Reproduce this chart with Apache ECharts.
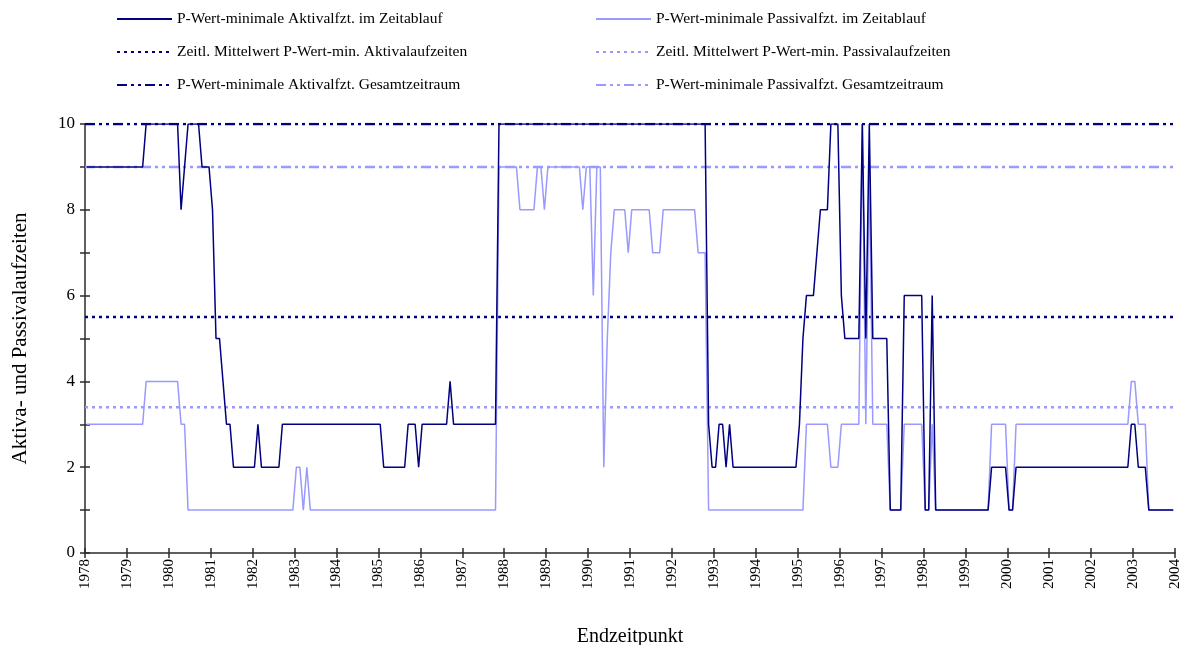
<!DOCTYPE html>
<html>
<head>
<meta charset="utf-8">
<title>P-Wert-minimale Aktiva- und Passivalaufzeiten</title>
<script src="https://cdn.jsdelivr.net/npm/echarts@6/dist/echarts.min.js"></script>
<style>
  html, body { margin: 0; padding: 0; background: #fff; }
  #chart { width: 1190px; height: 645px; }
</style>
</head>
<body>
<div id="chart"></div>
<script>
// Monthly values, January 1978 to December 2003 (12 per row = one year)
const startYear = 1978;
const endYear = 2004;

const aktiva = [
  9, 9, 9, 9, 9, 9, 9, 9, 9, 9, 9, 9,            // 1978
  9, 9, 9, 9, 9, 10, 10, 10, 10, 10, 10, 10,     // 1979
  10, 10, 10, 8, 9, 10, 10, 10, 10, 9, 9, 9,     // 1980
  8, 5, 5, 4, 3, 3, 2, 2, 2, 2, 2, 2,            // 1981
  2, 3, 2, 2, 2, 2, 2, 2, 3, 3, 3, 3,            // 1982
  3, 3, 3, 3, 3, 3, 3, 3, 3, 3, 3, 3,            // 1983
  3, 3, 3, 3, 3, 3, 3, 3, 3, 3, 3, 3,            // 1984
  3, 2, 2, 2, 2, 2, 2, 2, 3, 3, 3, 2,            // 1985
  3, 3, 3, 3, 3, 3, 3, 3, 4, 3, 3, 3,            // 1986
  3, 3, 3, 3, 3, 3, 3, 3, 3, 3, 10, 10,          // 1987
  10, 10, 10, 10, 10, 10, 10, 10, 10, 10, 10, 10, // 1988
  10, 10, 10, 10, 10, 10, 10, 10, 10, 10, 10, 10, // 1989
  10, 10, 10, 10, 10, 10, 10, 10, 10, 10, 10, 10, // 1990
  10, 10, 10, 10, 10, 10, 10, 10, 10, 10, 10, 10, // 1991
  10, 10, 10, 10, 10, 10, 10, 10, 10, 10, 3, 2,  // 1992
  2, 3, 3, 2, 3, 2, 2, 2, 2, 2, 2, 2,            // 1993
  2, 2, 2, 2, 2, 2, 2, 2, 2, 2, 2, 2,            // 1994
  3, 5, 6, 6, 6, 7, 8, 8, 8, 10, 10, 10,         // 1995
  6, 5, 5, 5, 5, 5, 10, 5, 10, 5, 5, 5,          // 1996
  5, 5, 1, 1, 1, 1, 6, 6, 6, 6, 6, 6,            // 1997
  1, 1, 6, 1, 1, 1, 1, 1, 1, 1, 1, 1,            // 1998
  1, 1, 1, 1, 1, 1, 1, 2, 2, 2, 2, 2,            // 1999
  1, 1, 2, 2, 2, 2, 2, 2, 2, 2, 2, 2,            // 2000
  2, 2, 2, 2, 2, 2, 2, 2, 2, 2, 2, 2,            // 2001
  2, 2, 2, 2, 2, 2, 2, 2, 2, 2, 2, 3,            // 2002
  3, 2, 2, 2, 1, 1, 1, 1, 1, 1, 1, 1             // 2003
];

const passiva = [
  3, 3, 3, 3, 3, 3, 3, 3, 3, 3, 3, 3,            // 1978
  3, 3, 3, 3, 3, 4, 4, 4, 4, 4, 4, 4,            // 1979
  4, 4, 4, 3, 3, 1, 1, 1, 1, 1, 1, 1,            // 1980
  1, 1, 1, 1, 1, 1, 1, 1, 1, 1, 1, 1,            // 1981
  1, 1, 1, 1, 1, 1, 1, 1, 1, 1, 1, 1,            // 1982
  2, 2, 1, 2, 1, 1, 1, 1, 1, 1, 1, 1,            // 1983
  1, 1, 1, 1, 1, 1, 1, 1, 1, 1, 1, 1,            // 1984
  1, 1, 1, 1, 1, 1, 1, 1, 1, 1, 1, 1,            // 1985
  1, 1, 1, 1, 1, 1, 1, 1, 1, 1, 1, 1,            // 1986
  1, 1, 1, 1, 1, 1, 1, 1, 1, 1, 9, 9,            // 1987
  9, 9, 9, 9, 8, 8, 8, 8, 8, 9, 9, 8,            // 1988
  9, 9, 9, 9, 9, 9, 9, 9, 9, 9, 8, 9,            // 1989
  9, 6, 9, 9, 2, 5, 7, 8, 8, 8, 8, 7,            // 1990
  8, 8, 8, 8, 8, 8, 7, 7, 7, 8, 8, 8,            // 1991
  8, 8, 8, 8, 8, 8, 8, 7, 7, 7, 1, 1,            // 1992
  1, 1, 1, 1, 1, 1, 1, 1, 1, 1, 1, 1,            // 1993
  1, 1, 1, 1, 1, 1, 1, 1, 1, 1, 1, 1,            // 1994
  1, 1, 3, 3, 3, 3, 3, 3, 3, 2, 2, 2,            // 1995
  3, 3, 3, 3, 3, 3, 10, 3, 9, 3, 3, 3,           // 1996
  3, 3, 1, 1, 1, 1, 3, 3, 3, 3, 3, 3,            // 1997
  1, 1, 3, 1, 1, 1, 1, 1, 1, 1, 1, 1,            // 1998
  1, 1, 1, 1, 1, 1, 1, 3, 3, 3, 3, 3,            // 1999
  1, 1, 3, 3, 3, 3, 3, 3, 3, 3, 3, 3,            // 2000
  3, 3, 3, 3, 3, 3, 3, 3, 3, 3, 3, 3,            // 2001
  3, 3, 3, 3, 3, 3, 3, 3, 3, 3, 3, 4,            // 2002
  4, 3, 3, 3, 1, 1, 1, 1, 1, 1, 1, 1             // 2003
];

// Reference levels
const meanAktiva = 5.5;    // zeitlicher Mittelwert Aktiva
const meanPassiva = 3.4;   // zeitlicher Mittelwert Passiva
const totalAktiva = 10;    // Gesamtzeitraum Aktiva
const totalPassiva = 9;    // Gesamtzeitraum Passiva

const seriesNames = {
  aktiva: 'P-Wert-minimale Aktivalfzt. im Zeitablauf',
  passiva: 'P-Wert-minimale Passivalfzt. im Zeitablauf',
  meanA: 'Zeitl. Mittelwert P-Wert-min. Aktivalaufzeiten',
  meanP: 'Zeitl. Mittelwert P-Wert-min. Passivalaufzeiten',
  totalA: 'P-Wert-minimale Aktivalfzt. Gesamtzeitraum',
  totalP: 'P-Wert-minimale Passivalfzt. Gesamtzeitraum'
};

const DARK = '#000080';
const LIGHT = '#9999ff';
const FONT = 'Liberation Serif';
const AXIS_COLOR = '#2b2b2b';

// each month sits in the middle of its slot on the year scale
const monthly = arr => arr.map((v, i) => [startYear + (i + 0.5) / 12, v]);
const level = v => [[startYear, v], [endYear, v]];

const dotted = [3, 4];
const dashDotDot = [10, 4, 3, 4, 3, 4];

function constLine(name, value, color, type, width) {
  return {
    name, type: 'line', data: level(value), symbol: 'none', silent: true,
    lineStyle: { color, width, type }, itemStyle: { color }, z: 2
  };
}

const chart = echarts.init(document.getElementById('chart'), null, { renderer: 'canvas' });

const commonX = { type: 'value', min: startYear, max: endYear, interval: 1, gridIndex: 0 };
const commonY = { type: 'value', min: 0, max: 10, interval: 1, gridIndex: 0 };

const legendBase = {
  orient: 'vertical', top: 6, itemGap: 17, itemWidth: 55, itemHeight: 18,
  itemStyle: { opacity: 0 },
  textStyle: { fontFamily: FONT, fontSize: 15.5, color: '#000' }
};

chart.setOption({
  backgroundColor: '#ffffff',
  animation: false,
  textStyle: { fontFamily: FONT },
  grid: { left: 85, right: 15, top: 124, bottom: 92, containLabel: false, outerBoundsMode: 'none' },
  legend: [
    Object.assign({}, legendBase, {
      left: 111,
      data: [seriesNames.aktiva, seriesNames.meanA, seriesNames.totalA]
    }),
    Object.assign({}, legendBase, {
      left: 590,
      data: [seriesNames.passiva, seriesNames.meanP, seriesNames.totalP]
    })
  ],
  xAxis: [
    Object.assign({}, commonX, {
      name: 'Endzeitpunkt', nameLocation: 'middle', nameGap: 74,
      nameTextStyle: { fontFamily: FONT, fontSize: 20, color: '#000' },
      axisLine: { show: true, lineStyle: { color: AXIS_COLOR, width: 1.5 } },
      axisTick: { show: true, inside: false, length: 5, lineStyle: { color: AXIS_COLOR, width: 1.5 } },
      axisLabel: { rotate: 90, margin: 6, fontFamily: FONT, fontSize: 15, color: '#000',
                   formatter: v => String(v) },
      splitLine: { show: false }
    }),
    Object.assign({}, commonX, {
      position: 'bottom',
      axisLine: { show: false },
      axisTick: { show: true, inside: true, length: 5, lineStyle: { color: AXIS_COLOR, width: 1.5 } },
      axisLabel: { show: false },
      splitLine: { show: false }
    })
  ],
  yAxis: [
    Object.assign({}, commonY, {
      name: 'Aktiva- und Passivalaufzeiten', nameLocation: 'middle', nameGap: 54,
      nameTextStyle: { fontFamily: FONT, fontSize: 21, color: '#000' },
      axisLine: { show: true, lineStyle: { color: AXIS_COLOR, width: 1.5 } },
      axisTick: { show: true, inside: false, length: 5, lineStyle: { color: AXIS_COLOR, width: 1.5 } },
      axisLabel: { margin: 10, fontFamily: FONT, fontSize: 17, color: '#000',
                   formatter: v => (v % 2 === 0 ? String(v) : '') },
      splitLine: { show: false }
    }),
    Object.assign({}, commonY, {
      position: 'left',
      axisLine: { show: false },
      axisTick: { show: true, inside: true, length: 5, lineStyle: { color: AXIS_COLOR, width: 1.5 } },
      axisLabel: { show: false },
      splitLine: { show: false }
    })
  ],
  series: [
    constLine(seriesNames.meanA, meanAktiva, DARK, dotted, 2.5),
    constLine(seriesNames.meanP, meanPassiva, LIGHT, dotted, 2.5),
    constLine(seriesNames.totalA, totalAktiva, DARK, dashDotDot, 2.5),
    constLine(seriesNames.totalP, totalPassiva, LIGHT, dashDotDot, 2.5),
    {
      name: seriesNames.passiva, type: 'line', data: monthly(passiva),
      symbol: 'none', lineStyle: { color: LIGHT, width: 1.5 }, itemStyle: { color: LIGHT }, z: 3
    },
    {
      name: seriesNames.aktiva, type: 'line', data: monthly(aktiva),
      symbol: 'none', lineStyle: { color: DARK, width: 1.5 }, itemStyle: { color: DARK }, z: 4
    }
  ]
});
</script>
</body>
</html>
